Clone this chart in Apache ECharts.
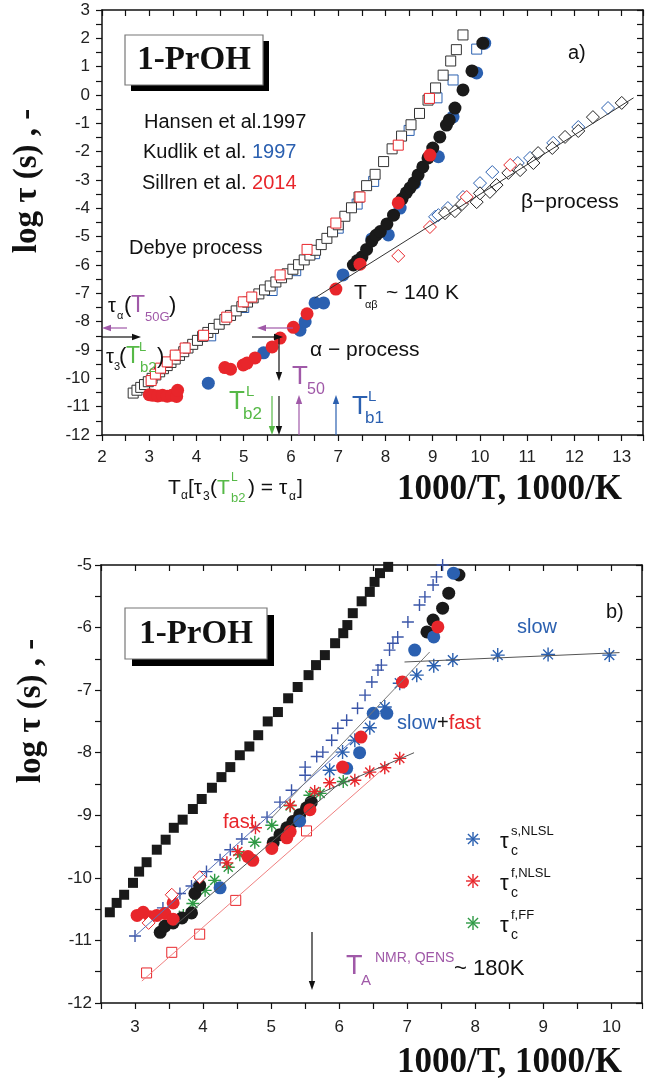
<!DOCTYPE html>
<html>
<head>
<meta charset="utf-8">
<script src="https://cdn.jsdelivr.net/npm/echarts@6/dist/echarts.min.js"></script>
<style>
html, body { margin: 0; padding: 0; background: #fff; }
#chart { width: 646px; height: 1088px; }
</style>
</head>
<body>
<div id="chart"></div>
<script>
// ---------- panel a) : 1000/T vs log tau ----------
const hansenDebye = [[2.66,-10.52],[2.74,-10.42],[2.82,-10.32],[2.9,-10.22],[2.98,-10.12],[3.06,-10.0],[3.14,-9.88],[3.22,-9.77],[3.3,-9.66],[3.38,-9.55],[3.46,-9.44],[3.55,-9.32],[3.64,-9.19],[3.73,-9.06],[3.82,-8.93],[3.92,-8.8],[4.02,-8.66],[4.13,-8.52],[4.24,-8.38],[4.36,-8.24],[4.48,-8.09],[4.6,-7.93],[4.72,-7.78],[4.84,-7.62],[4.96,-7.47],[5.08,-7.31],[5.2,-7.16],[5.32,-7.02],[5.44,-6.88],[5.56,-6.74],[5.68,-6.6],[5.8,-6.45],[5.92,-6.31],[6.04,-6.15],[6.16,-5.99],[6.28,-5.82],[6.4,-5.65],[6.52,-5.48],[6.64,-5.28],[6.76,-5.06],[6.88,-4.83],[7.0,-4.58],[7.14,-4.28],[7.28,-3.98],[7.44,-3.6],[7.6,-3.2],[7.78,-2.8],[7.96,-2.35],[8.14,-1.9],[8.34,-1.45],[8.54,-1.05],[8.72,-0.65],[8.9,-0.18],[9.06,0.25],[9.22,0.7],[9.38,1.2],[9.5,1.6],[9.64,2.12]];
const kudlikDebye = [[4.3,-8.5],[5.0,-7.5],[5.6,-6.9],[6.1,-6.2],[6.5,-5.6],[7.0,-4.7],[7.4,-3.85],[7.75,-3.05],[8.5,-1.25],[9.09,-0.1],[9.43,0.53],[9.93,1.62]];
const sillrenDebye = [[3.04,-10.08],[3.13,-9.85],[3.24,-9.64],[3.38,-9.42],[3.55,-9.18],[3.76,-8.93],[4.15,-8.48],[4.64,-7.84],[4.99,-7.3],[5.17,-7.13],[5.77,-6.35],[6.34,-5.45],[6.95,-4.52],[7.46,-3.6],[8.27,-1.77],[8.93,-0.12]];

const hansenAlpha = [[7.32,-6.0],[7.4,-5.85],[7.5,-5.72],[7.6,-5.45],[7.71,-5.15],[7.8,-4.95],[7.89,-4.82],[8.03,-4.55],[8.17,-4.24],[8.35,-3.67],[8.44,-3.45],[8.52,-3.28],[8.6,-3.1],[8.69,-2.82],[8.79,-2.54],[8.9,-2.22],[9.0,-1.87],[9.15,-1.48],[9.29,-1.06],[9.35,-0.88],[9.47,-0.46],[9.64,0.18],[9.83,0.85],[10.06,1.83]];
const kudlikAlpha = [[4.25,-10.17],[5.42,-9.1],[6.19,-8.3],[6.3,-8.0],[6.51,-7.34],[6.69,-7.34],[7.1,-6.35],[7.71,-5.08],[8.06,-4.94],[8.31,-3.99],[8.62,-3.11],[9.12,-2.18],[9.43,-0.77],[9.93,0.78],[10.1,1.83]];
const sillrenAlpha = [[3.0,-10.58],[3.08,-10.6],[3.18,-10.62],[3.28,-10.6],[3.38,-10.63],[3.48,-10.6],[3.58,-10.64],[3.6,-10.42],[4.6,-9.62],[4.72,-9.68],[4.99,-9.53],[5.07,-9.46],[5.24,-9.28],[5.6,-8.89],[5.77,-8.58],[6.05,-8.2],[6.34,-7.72],[6.95,-6.85],[7.46,-5.97],[8.27,-3.81],[8.94,-2.12]];

const hansenBeta = [[9.26,-4.17],[9.47,-4.1],[9.62,-3.85],[9.93,-3.78],[10.0,-3.47],[10.21,-3.42],[10.35,-3.18],[10.6,-2.75],[10.85,-2.65],[11.13,-2.4],[11.23,-2.05],[11.53,-1.87],[11.8,-1.48],[12.08,-1.27],[12.39,-0.78],[13.0,-0.28]];
const kudlikBeta = [[9.05,-4.3],[9.12,-4.24],[9.32,-3.99],[9.64,-3.6],[10.0,-3.11],[10.26,-2.72],[10.8,-2.4],[11.06,-2.22],[11.55,-1.69],[12.08,-1.13],[12.71,-0.46]];
const sillrenBeta = [[8.27,-5.68],[8.94,-4.66],[9.72,-3.6],[10.64,-2.47]];
const betaFit = [[6.5,-7.17],[13.25,-0.1]];

// ---------- panel b) ----------
const debyeB = [[2.63,-10.55],[2.73,-10.4],[2.84,-10.27],[2.97,-10.08],[3.06,-9.9],[3.17,-9.75],[3.32,-9.55],[3.45,-9.39],[3.57,-9.2],[3.7,-9.07],[3.85,-8.9],[3.98,-8.74],[4.13,-8.56],[4.27,-8.39],[4.4,-8.23],[4.54,-8.04],[4.68,-7.9],[4.81,-7.72],[4.95,-7.5],[5.1,-7.35],[5.25,-7.13],[5.39,-6.95],[5.55,-6.76],[5.66,-6.6],[5.79,-6.44],[5.94,-6.25],[6.06,-6.09],[6.12,-5.96],[6.2,-5.77],[6.33,-5.58],[6.45,-5.43],[6.52,-5.27],[6.6,-5.13],[6.72,-5.03]];
const plusB = [[3.0,-10.93],[3.41,-10.48],[3.66,-10.25],[3.83,-10.13],[4.05,-9.9],[4.25,-9.71],[4.4,-9.55],[4.57,-9.38],[4.94,-9.03],[5.13,-8.79],[5.3,-8.6],[5.5,-8.36],[5.5,-8.23],[5.67,-8.06],[5.76,-7.99],[5.89,-7.8],[5.98,-7.61],[6.11,-7.48],[6.27,-7.29],[6.38,-7.08],[6.48,-6.87],[6.57,-6.68],[6.62,-6.6],[6.74,-6.36],[6.79,-6.25],[6.86,-6.15],[7.01,-5.91],[7.18,-5.64],[7.26,-5.51],[7.38,-5.32],[7.43,-5.19],[7.52,-5.0]];
const plusFit = [[3.0,-10.93],[6.2,-7.8]];
const tauSlow = [[5.86,-8.28],[6.05,-7.99],[6.23,-7.8],[6.45,-7.6],[6.67,-7.27],[6.89,-6.89],[7.14,-6.76],[7.39,-6.61],[7.67,-6.52],[8.33,-6.44],[9.07,-6.43],[9.97,-6.44]];
const slowFit = [[6.96,-6.55],[10.12,-6.4]];
const slowFastFit = [[7.33,-6.39],[5.0,-9.05]];
const tauFast = [[4.35,-9.76],[4.51,-9.58],[4.77,-9.2],[5.28,-8.84],[5.64,-8.62],[5.86,-8.48],[6.23,-8.44],[6.45,-8.31],[6.67,-8.24],[6.89,-8.09]];
const fastFit = [[5.5,-8.75],[7.1,-8.0]];
const tauFF = [[3.71,-10.6],[3.85,-10.41],[4.03,-10.2],[4.17,-10.04],[4.37,-9.83],[4.54,-9.63],[4.76,-9.43],[5.01,-9.16],[5.28,-8.85],[5.57,-8.68],[5.72,-8.65],[6.06,-8.46]];
const ffFit = [[3.6,-10.75],[6.1,-8.4]];
const blackCirB = [[3.37,-10.87],[3.44,-10.77],[3.56,-10.72],[3.69,-10.64],[3.83,-10.56],[3.88,-10.25],[3.95,-10.12],[5.03,-9.44],[5.13,-9.31],[5.23,-9.2],[5.32,-9.1],[5.42,-8.99],[5.52,-8.88],[5.59,-8.79],[7.29,-6.07],[7.38,-5.88],[7.52,-5.69],[7.61,-5.45],[7.76,-5.16]];
const redCirB = [[3.03,-10.6],[3.12,-10.55],[3.22,-10.62],[3.32,-10.6],[3.44,-10.57],[3.56,-10.66],[3.56,-10.4],[4.66,-9.66],[4.73,-9.72],[5.01,-9.53],[5.23,-9.36],[5.28,-9.26],[5.57,-8.91],[6.05,-8.23],[6.32,-7.75],[6.93,-6.87],[7.45,-5.99]];
const blueCirB = [[4.25,-10.16],[5.42,-9.09],[6.11,-8.25],[6.3,-8.0],[6.5,-7.37],[6.7,-7.37],[7.11,-6.36],[7.39,-6.15],[7.68,-5.13]];
const redSqB = [[3.17,-11.52],[3.54,-11.19],[3.95,-10.9],[4.48,-10.36],[5.52,-9.25]];
const redSqFit = [[3.1,-11.65],[6.6,-8.3]];
const redDiaB = [[3.2,-10.72],[3.54,-10.27],[3.95,-9.99]];

const BLACK = '#1a1a1a', BLUE = '#2b60b0', RED = '#e8262b', GREEN = '#2f9a45';
const PURPLE = '#a059a8', LGREEN = '#56b947';
const SANS = '"Liberation Sans", Arial, sans-serif';
const SERIF = '"Liberation Serif", "Times New Roman", serif';
const PLUS = 'path://M0,5L10,5M5,0L5,10';
const STAR = 'path://M0,5L10,5M5,0L5,10M1.5,1.5L8.5,8.5M8.5,1.5L1.5,8.5';

const intOnly = v => Math.abs(v - Math.round(v)) < 1e-6 ? String(Math.round(v)) : '';
const axLine = {onZero: false, lineStyle: {color: '#111', width: 1.5}};

function xAxis(grid, min, max, interval, position, minor, margin) {
  const labels = position === 'bottom';
  return {
    type: 'value', gridIndex: grid, position, min, max, interval,
    axisLine: axLine,
    axisTick: {show: true, inside: !labels, length: 6, lineStyle: {color: '#111', width: 1.2}},
    minorTick: {show: minor, splitNumber: 2, length: 6, lineStyle: {color: '#111', width: 1.2}},
    axisLabel: {show: labels, formatter: intOnly, fontFamily: SANS, fontSize: 17, color: '#222', margin},
    splitLine: {show: false}, minorSplitLine: {show: false},
  };
}
function yAxis(grid, min, max, position, margin, size) {
  const labels = position === 'left';
  return {
    type: 'value', gridIndex: grid, position, min, max, interval: 1,
    axisLine: axLine,
    axisTick: {show: true, inside: !labels, length: 6, lineStyle: {color: '#111', width: 1.2}},
    minorTick: {show: true, splitNumber: 2, length: 6, lineStyle: {color: '#111', width: 1.2}},
    axisLabel: {show: labels, formatter: intOnly, fontFamily: SANS, fontSize: size, color: '#222', margin},
    splitLine: {show: false}, minorSplitLine: {show: false},
  };
}

function sc(data, ax, symbol, size, fill, stroke, bw) {
  return {
    type: 'scatter', xAxisIndex: ax, yAxisIndex: ax, data, symbol, symbolSize: size,
    itemStyle: {color: fill, borderColor: stroke, borderWidth: bw || 0, opacity: 1},
    emphasis: {disabled: true},
  };
}
function ln(data, ax, color, width) {
  return {
    type: 'line', xAxisIndex: ax, yAxisIndex: ax, data, symbol: 'none',
    lineStyle: {color, width: width || 1}, emphasis: {disabled: true},
  };
}

// ---------- annotations (pixel positions) ----------
const g = [];
function txt(x, y, s, size, color, extra) {
  g.push(Object.assign({type: 'text', x, y, z: 100, style: Object.assign({
    text: s, fontSize: size, fontFamily: SANS, fill: color || '#111',
    align: 'left', verticalAlign: 'middle'}, extra || {})}));
}
function seg(x1, y1, x2, y2, color, w) {
  g.push({type: 'line', z: 100, shape: {x1, y1, x2, y2}, style: {stroke: color, lineWidth: w || 1.2}});
}
function arrow(x1, y1, x2, y2, color) {
  const a = Math.atan2(y2 - y1, x2 - x1), L = 9, w = 3.2;
  const bx = x2 - L * Math.cos(a), by = y2 - L * Math.sin(a);
  seg(x1, y1, bx, by, color);
  g.push({type: 'polygon', z: 100, shape: {points: [[x2, y2],
    [bx - w * Math.sin(a), by + w * Math.cos(a)], [bx + w * Math.sin(a), by - w * Math.cos(a)]]},
    style: {fill: color}});
}
function star(cx, cy, r, color) {
  const d = r * 0.72;
  seg(cx - r, cy, cx + r, cy, color, 1.4);
  seg(cx, cy - r, cx, cy + r, color, 1.4);
  seg(cx - d, cy - d, cx + d, cy + d, color, 1.4);
  seg(cx + d, cy - d, cx - d, cy + d, color, 1.4);
}
function box(x, y, w, h, off, cx, cy) {
  g.push({type: 'rect', z: 90, shape: {x: x + off, y: y + off, width: w, height: h}, style: {fill: '#000'}});
  g.push({type: 'rect', z: 91, shape: {x, y, width: w, height: h}, style: {fill: '#fff', stroke: '#777', lineWidth: 1.2}});
  txt(cx, cy, '1-PrOH', 33, '#111', {fontFamily: SERIF, fontWeight: 'bold', align: 'center'});
}
function ytitle(x, y) {
  g.push({type: 'text', x, y, rotation: Math.PI / 2, z: 100, style: {
    text: 'log τ (s) , -', fontFamily: SERIF, fontWeight: 'bold', fontSize: 33,
    fill: '#111', align: 'center', verticalAlign: 'middle'}});
}

// panel a
box(125, 35, 138, 50, 6, 194, 60);
ytitle(27, 181);
txt(568, 53, 'a)', 20);
txt(144, 122, 'Hansen et al.1997', 20);
txt(143, 152, 'Kudlik et al. {b|1997}', 20, '#111', {rich: {b: {fill: BLUE, color: BLUE, fontSize: 20, fontFamily: SANS}}});
txt(142, 183, 'Sillren et al. {r|2014}', 20, '#111', {rich: {r: {fill: RED, color: RED, fontSize: 20, fontFamily: SANS}}});
txt(129, 248, 'Debye process', 20);
txt(521, 202, 'β−process', 21);
txt(354, 293, 'T', 21);
txt(365, 305, 'αβ', 11);
txt(386, 293, '~ 140 K', 21);
txt(310, 350, 'α − process', 21);
// tau_alpha(T50G)
txt(108, 306, 'τ', 20);
txt(117, 316, 'α', 11);
txt(124, 306, '(', 22);
txt(131, 306, 'T', 23, PURPLE);
txt(145, 317, '50G', 13, PURPLE);
txt(169, 306, ')', 22);
// tau_3(T^L_b2)
txt(106, 357, 'τ', 20);
txt(114, 367, '3', 11);
txt(119, 357, '(', 22);
txt(126, 357, 'T', 23, LGREEN);
txt(139, 347, 'L', 13, LGREEN);
txt(140, 368, 'b2', 15, LGREEN);
txt(157, 357, ')', 22);
// T^L_b2, T50, T^L_b1
txt(229, 402, 'T', 26, LGREEN);
txt(246, 392, 'L', 15, LGREEN);
txt(243, 414, 'b2', 17, LGREEN);
txt(292, 377, 'T', 26, PURPLE);
txt(307, 390, '50', 16, PURPLE);
txt(352, 407, 'T', 26, BLUE);
txt(368, 397, 'L', 15, BLUE);
txt(365, 418, 'b1', 17, BLUE);
arrow(127, 328, 102, 328, PURPLE);
arrow(102, 337, 141, 337, '#111');
arrow(293, 328, 257, 328, PURPLE);
arrow(252, 337, 283, 337, '#111');
arrow(279, 337, 279, 381, '#111');
arrow(279, 396, 279, 435, '#111');
arrow(272, 396, 272, 435, LGREEN);
arrow(299, 435, 299, 395, PURPLE);
arrow(336, 435, 336, 395, BLUE);
// x titles a
txt(168, 488, 'T', 21);
txt(181, 496, 'α', 12);
txt(188, 488, '[τ', 21);
txt(203, 497, '3', 12);
txt(210, 488, '(', 21);
txt(217, 488, 'T', 21, LGREEN);
txt(231, 478, 'L', 12, LGREEN);
txt(231, 498, 'b2', 13, LGREEN);
txt(248, 488, ') = τ', 21);
txt(289, 497, 'α', 12);
txt(297, 488, ']', 21);
txt(397, 490, '1000/T, 1000/K', 35, '#111', {fontFamily: SERIF, fontWeight: 'bold'});

// panel b
box(125, 608, 142, 51, 7, 196, 634);
ytitle(31, 711);
txt(606, 612, 'b)', 20);
txt(517, 627, 'slow', 20, BLUE);
txt(397, 723, '{b|slow}{k|+}{r|fast}', 20, '#111', {rich: {
  b: {fill: BLUE, color: BLUE, fontSize: 20, fontFamily: SANS},
  k: {fill: '#111', color: '#111', fontSize: 20, fontFamily: SANS},
  r: {fill: RED, color: RED, fontSize: 20, fontFamily: SANS}}});
txt(223, 822, 'fast', 20, RED);
// legend for the correlation times
[[839, BLUE, 's,NLSL'], [881, RED, 'f,NLSL'], [923, GREEN, 'f,FF']].forEach(([y, c, sup]) => {
  star(473, y, 7, c);
  txt(500, y + 3, 'τ', 22);
  txt(511, y + 12, 'c', 14);
  txt(511, y - 8, sup, 13);
});
txt(346, 967, 'T', 27, PURPLE);
txt(361, 981, 'A', 15, PURPLE);
txt(375, 958, 'NMR, QENS', 14, PURPLE);
txt(454, 969, '~ 180K', 22);
arrow(312, 932, 312, 990, '#111');
txt(397, 1063, '1000/T, 1000/K', 35, '#111', {fontFamily: SERIF, fontWeight: 'bold'});

const option = {
  animation: false,
  backgroundColor: '#fff',
  grid: [
    {left: 102, top: 10, width: 541, height: 425},
    {left: 101, top: 565, width: 541, height: 438},
  ],
  xAxis: [
    xAxis(0, 2, 13.45, 1, 'bottom', true, 14),
    xAxis(0, 2, 13.45, 1, 'top', true, 14),
    xAxis(1, 2.5, 10.45, 0.5, 'bottom', false, 16),
    xAxis(1, 2.5, 10.45, 0.5, 'top', false, 16),
  ],
  yAxis: [
    yAxis(0, -12, 3, 'left', 12, 17),
    yAxis(0, -12, 3, 'right', 12, 17),
    yAxis(1, -12, -5, 'left', 9, 17),
    yAxis(1, -12, -5, 'right', 9, 17),
  ],
  series: [
    // panel a
    ln(betaFit, 0, '#333', 1),
    sc(kudlikDebye, 0, 'rect', 10, '#fff', BLUE, 1),
    sc(hansenDebye, 0, 'rect', 10, '#fff', '#333', 1),
    sc(sillrenDebye, 0, 'rect', 10, '#fff', RED, 1),
    sc(kudlikBeta, 0, 'diamond', [13, 13], '#fff', BLUE, 1),
    sc(hansenBeta, 0, 'diamond', [13, 13], '#fff', '#222', 1),
    sc(sillrenBeta, 0, 'diamond', [13, 13], '#fff', RED, 1),
    sc(kudlikAlpha, 0, 'circle', 13, BLUE),
    sc(hansenAlpha, 0, 'circle', 13, BLACK),
    sc(sillrenAlpha, 0, 'circle', 13, RED),
    // panel b
    ln(plusFit, 2, '#5a72b8', 1),
    ln(redSqFit, 2, '#f08080', 1),
    ln(ffFit, 2, '#555', 1),
    ln(fastFit, 2, '#555', 1),
    ln(slowFit, 2, '#555', 1),
    ln(slowFastFit, 2, '#777', 1),
    sc(debyeB, 2, 'rect', 10, BLACK),
    sc(redSqB, 2, 'rect', 10, '#fff', RED, 1),
    sc(plusB, 2, PLUS, 12, 'rgba(0,0,0,0)', '#3a55a8', 1.4),
    sc(tauFF, 2, STAR, 13, 'rgba(0,0,0,0)', GREEN, 1.4),
    sc(tauFast, 2, STAR, 13, 'rgba(0,0,0,0)', RED, 1.4),
    sc(tauSlow, 2, STAR, 14, 'rgba(0,0,0,0)', BLUE, 1.4),
    sc(blackCirB, 2, 'circle', 13, BLACK),
    sc(blueCirB, 2, 'circle', 13, BLUE),
    sc(redCirB, 2, 'circle', 13, RED),
    sc(redDiaB, 2, 'diamond', [13, 13], '#fff', RED, 1),
  ],
  graphic: g,
};

const chart = echarts.init(document.getElementById('chart'));
chart.setOption(option);
</script>
</body>
</html>
